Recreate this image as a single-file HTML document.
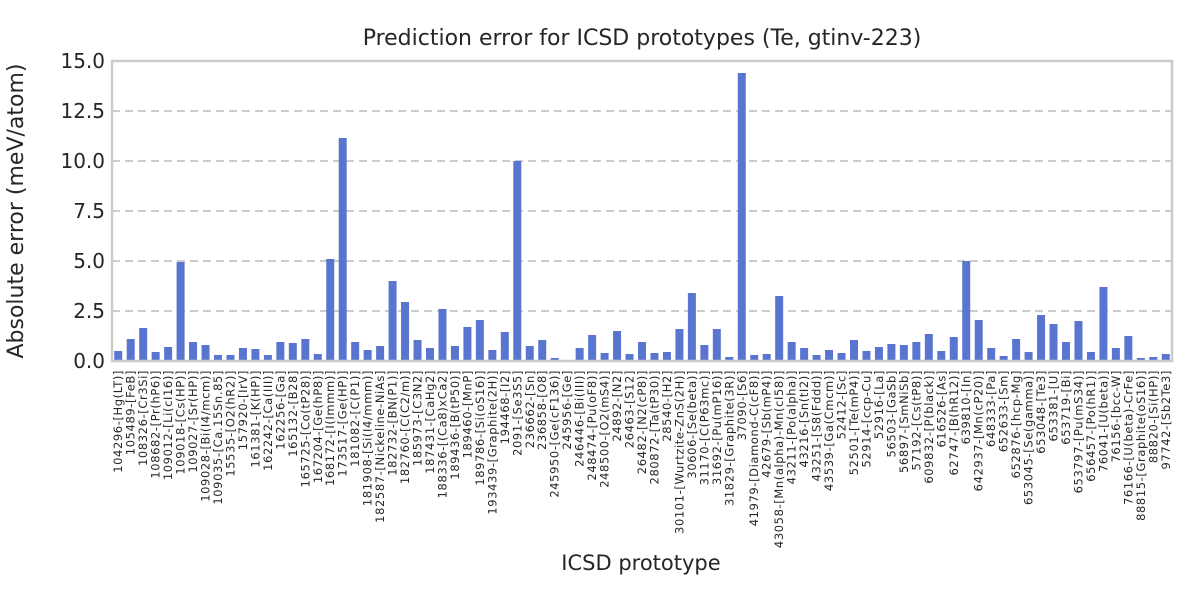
<!DOCTYPE html>
<html><head><meta charset="utf-8"><style>
body{margin:0;background:#fff;}
svg{display:block;font-family:"DejaVu Sans","Liberation Sans",sans-serif;}
</style></head><body>
<svg id="chart" width="1200" height="600">
<text x="642" y="45" font-size="22" text-anchor="middle" fill="#262626">Prediction error for ICSD prototypes (Te, gtinv-223)</text>
<g id="grid"></g><g id="bars"></g><g id="yticks"></g><g id="xticks"></g>
<rect x="112" y="61" width="1060" height="300" fill="none" stroke="#cccccc" stroke-width="2.5"/>
<text x="641" y="570" font-size="21" text-anchor="middle" fill="#262626">ICSD prototype</text>
<text transform="translate(23,211) rotate(-90)" font-size="22" text-anchor="middle" fill="#262626">Absolute error (meV/atom)</text>
</svg>
<script>
const categories=["104296-[Hg(LT)]","105489-[FeB]","108326-[Cr3Si]","108682-[Pr(hP6)]","109012-[Li(cI16)]","109018-[Cs(HP)]","109027-[Sr(HP)]","109028-[Bi(I4/mcm)]","109035-[Ca.15Sn.85]","15535-[O2(hR2)]","157920-[IrV]","161381-[K(HP)]","162242-[Ca(III)]","162256-[Ga]","165132-[B28]","165725-[Co(tP28)]","167204-[Ge(hP8)]","168172-[I(Immm)]","173517-[Ge(HP)]","181082-[C(P1)]","181908-[Si(I4/mmm)]","182587-[Nickeline-NiAs]","182732-[BN(P1)]","182760-[C(C2/m)]","185973-[C3N2]","187431-[CaHg2]","188336-[(Ca8)xCa2]","189436-[B(tP50)]","189460-[MnP]","189786-[Si(oS16)]","193439-[Graphite(2H)]","194468-[I2]","2091-[Se3S5]","236662-[Sn]","236858-[O8]","245950-[Ge(cF136)]","245956-[Ge]","246446-[Bi(III)]","248474-[Pu(oF8)]","248500-[O2(mS4)]","24892-[N2]","26463-[S12]","26482-[N2(cP8)]","280872-[Ta(tP30)]","28540-[H2]","30101-[Wurtzite-ZnS(2H)]","30606-[Se(beta)]","31170-[C(P63mc)]","31692-[Pu(mP16)]","31829-[Graphite(3R)]","37090-[S6]","41979-[Diamond-C(cF8)]","42679-[Sb(mP4)]","43058-[Mn(alpha)-Mn(cI58)]","43211-[Po(alpha)]","43216-[Sn(tI2)]","43251-[S8(Fddd)]","43539-[Ga(Cmcm)]","52412-[Sc]","52501-[Te(mP4)]","52914-[ccp-Cu]","52916-[La]","56503-[GaSb]","56897-[SmNiSb]","57192-[Cs(tP8)]","609832-[P(black)]","616526-[As]","62747-[B(hR12)]","639810-[In]","642937-[Mn(cP20)]","648333-[Pa]","652633-[Sm]","652876-[hcp-Mg]","653045-[Se(gamma)]","653048-[Te3]","653381-[U]","653719-[Bi]","653797-[Pu(mS34)]","656457-[Po(hR1)]","76041-[U(beta)]","76156-[bcc-W]","76166-[U(beta)-CrFe]","88815-[Graphite(oS16)]","88820-[Si(HP)]","97742-[Sb2Te3]"];
const values=[0.5,1.1,1.65,0.45,0.7,4.95,0.95,0.8,0.3,0.3,0.65,0.6,0.3,0.95,0.9,1.1,0.35,5.1,11.15,0.95,0.55,0.75,4.0,2.95,1.05,0.65,2.6,0.75,1.7,2.05,0.55,1.45,10.0,0.75,1.05,0.15,0,0.65,1.3,0.4,1.5,0.35,0.95,0.4,0.45,1.6,3.4,0.8,1.6,0.2,14.4,0.3,0.35,3.25,0.95,0.65,0.3,0.55,0.4,1.05,0.5,0.7,0.85,0.8,0.95,1.35,0.5,1.2,5.0,2.05,0.65,0.25,1.1,0.45,2.3,1.85,0.95,2.0,0.45,3.7,0.65,1.25,0.15,0.2,0.35];
const yTicks=[0,2.5,5,7.5,10,12.5,15];
const yTickLabels=["0.0","2.5","5.0","7.5","10.0","12.5","15.0"];
const NS="http://www.w3.org/2000/svg";
const X0=112,W=1060,Y0=361,H=300,YMAX=15;
const step=W/categories.length;
function xc(i){return X0+(i+0.5)*step;}
function ys(v){return Y0-v/YMAX*H;}
function mk(tag,attrs,parent){const e=document.createElementNS(NS,tag);for(const k in attrs)e.setAttribute(k,attrs[k]);parent.appendChild(e);return e;}
const grid=document.getElementById('grid'),bars=document.getElementById('bars'),yt=document.getElementById('yticks'),xt=document.getElementById('xticks');
yTicks.forEach((t,i)=>{
  if(t>0&&t<YMAX){const l=mk('line',{x1:X0,x2:X0+W,y1:ys(t),y2:ys(t),stroke:'#cccccc','stroke-width':2,'stroke-dasharray':'8,5'},grid);
  
  }
  const tx=mk('text',{x:X0-7,y:ys(t)+7,'font-size':20,'text-anchor':'end',fill:'#262626'},yt);
  tx.textContent=yTickLabels[i];
  
  
});
const bw=8;
values.forEach((v,i)=>{
  const r=mk('rect',{x:xc(i)-bw/2,y:ys(v),width:bw,height:Y0-ys(v),fill:'#5975cf'},bars);
  
  
});
categories.forEach((c,i)=>{
  const x=xc(i)+4;
  const tx=mk('text',{transform:`translate(${x},370) rotate(-90)`,'font-size':11.5,'letter-spacing':0.6,'text-anchor':'end',fill:'#262626'},xt);
  tx.textContent=c;
  
  
});
</script>
</body></html>
